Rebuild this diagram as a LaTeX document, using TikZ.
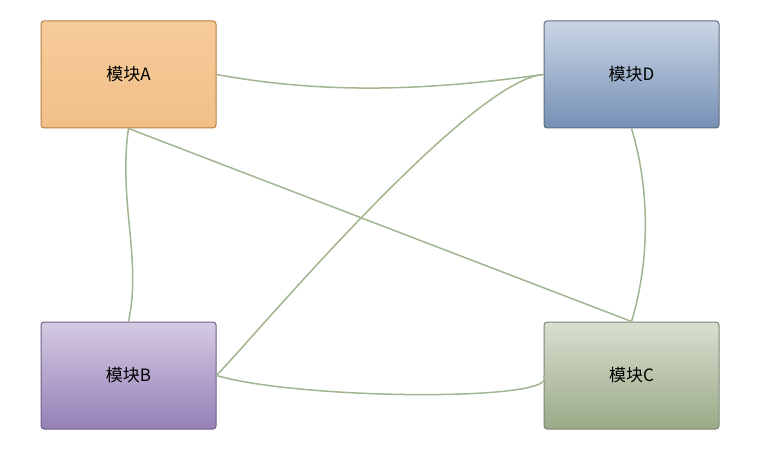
\documentclass[tikz,border=0pt]{standalone}
\usepackage{fontspec}
\newfontfamily\cjk{Noto Sans CJK SC}
\definecolor{modAtop}{HTML}{F6CB9A}
\definecolor{modAbot}{HTML}{F1C089}
\definecolor{modAline}{HTML}{B98040}
\definecolor{modBtop}{HTML}{D5CBE3}
\definecolor{modBbot}{HTML}{957FB7}
\definecolor{modBline}{HTML}{6F6184}
\definecolor{modCtop}{HTML}{D9DFD0}
\definecolor{modCbot}{HTML}{9AA987}
\definecolor{modCline}{HTML}{7E8878}
\definecolor{modDtop}{HTML}{CAD5E4}
\definecolor{modDbot}{HTML}{7690B5}
\definecolor{modDline}{HTML}{5F6C80}
\definecolor{linkgreen}{HTML}{A2B591}

\begin{document}
\begin{tikzpicture}[x=1pt, y=-1pt,
  module/.style={rounded corners=3pt, line width=1pt, minimum width=175pt,
    minimum height=107pt, font=\cjk\fontsize{17}{20}\selectfont},
  link/.style={linkgreen, line width=1.5pt}]

  \useasboundingbox (0,0) rectangle (762,457);

  % ====== 四个模块 ======
  \node[module, draw=modAline, top color=modAtop, bottom color=modAbot] (A) at (128.5,74.5) {模块A};
  \node[module, draw=modDline, top color=modDtop, bottom color=modDbot] (D) at (631.5,74.5) {模块D};
  \node[module, draw=modBline, top color=modBtop, bottom color=modBbot] (B) at (128.5,375.5) {模块B};
  \node[module, draw=modCline, top color=modCtop, bottom color=modCbot] (C) at (631.5,375.5) {模块C};

  % ====== 连线 ======
  \draw[link] (A.east) .. controls (330,95) and (430,90) .. (D.west);
  \draw[link] (A.south) .. controls (118,200) and (142,260) .. (B.north);
  \draw[link] (A.south) -- (C.north);
  \draw[link] (B.east) .. controls (260,330) and (470,80) .. (D.west);
  \draw[link] (D.south) .. controls (650,190) and (650,260) .. (C.north);
  \draw[link] (B.east) .. controls (300,400) and (565,402) .. (C.west);

\end{tikzpicture}
\end{document}
